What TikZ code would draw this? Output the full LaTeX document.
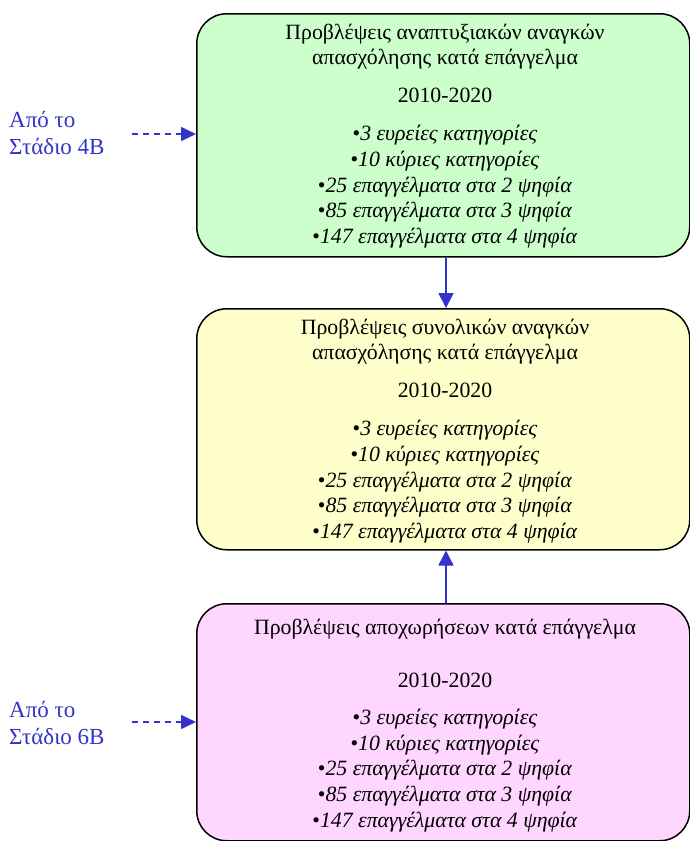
\documentclass[tikz,border=0pt]{standalone}
\usepackage{fontspec}
\setmainfont{Liberation Serif}
\usetikzlibrary{arrows.meta}
\definecolor{arrowblue}{RGB}{51,51,204}
\definecolor{boxgreen}{RGB}{204,255,204}
\definecolor{boxyellow}{RGB}{255,255,204}
\definecolor{boxpink}{RGB}{255,214,255}
\newcommand{\listitem}[1]{•\textit{#1}}
\begin{document}
\begin{tikzpicture}[x=1pt,y=-1pt,
  box/.style={draw=black, line width=1.5pt, rounded corners=30pt, minimum width=493pt, anchor=north west, inner sep=0pt},
  boxtext/.style={align=center, inner sep=0pt, anchor=north, font=\fontsize{21.8}{25.6}\selectfont},
  sidelabel/.style={align=left, inner sep=0pt, anchor=north west, text=arrowblue, font=\fontsize{23}{27}\selectfont},
  dasharrow/.style={draw=arrowblue, line width=1.5pt, dash pattern=on 6pt off 5pt, -{Triangle[length=15pt,width=14pt,fill=arrowblue]}},
  solidarrow/.style={draw=arrowblue, line width=1.5pt, -{Triangle[length=15pt,width=15pt,fill=arrowblue]}}
]
\useasboundingbox (0,0) rectangle (690,841);

\node[box, fill=boxgreen, minimum height=243pt] (g) at (196,13) {};
\node[box, fill=boxyellow, minimum height=241pt] (y) at (196,308) {};
\node[box, fill=boxpink, minimum height=237pt] (p) at (196,603) {};

\node[boxtext] (gt) at (445,23.5) {Προβλέψεις αναπτυξιακών αναγκών\\ απασχόλησης κατά επάγγελμα\\[12pt] 2010-2020\\[13pt]
\listitem{3 ευρείες κατηγορίες}\\ \listitem{10 κύριες κατηγορίες}\\ \listitem{25 επαγγέλματα στα 2 ψηφία}\\ \listitem{85 επαγγέλματα στα 3 ψηφία}\\ \listitem{147 επαγγέλματα στα 4 ψηφία}};

\node[boxtext] (yt) at (445,318.5) {Προβλέψεις συνολικών αναγκών\\ απασχόλησης κατά επάγγελμα\\[12pt] 2010-2020\\[13pt]
\listitem{3 ευρείες κατηγορίες}\\ \listitem{10 κύριες κατηγορίες}\\ \listitem{25 επαγγέλματα στα 2 ψηφία}\\ \listitem{85 επαγγέλματα στα 3 ψηφία}\\ \listitem{147 επαγγέλματα στα 4 ψηφία}};

\node[boxtext] (pt) at (445,619) {Προβλέψεις αποχωρήσεων κατά επάγγελμα\\[27pt] 2010-2020\\[12pt]
\listitem{3 ευρείες κατηγορίες}\\ \listitem{10 κύριες κατηγορίες}\\ \listitem{25 επαγγέλματα στα 2 ψηφία}\\ \listitem{85 επαγγέλματα στα 3 ψηφία}\\ \listitem{147 επαγγέλματα στα 4 ψηφία}};

\node[sidelabel] (l1) at (9,111) {Από το\\Στάδιο 4B};
\node[sidelabel] (l2) at (9,701) {Από το\\Στάδιο 6B};

\coordinate (s1) at (132,134);
\coordinate (s2) at (132,722);
\coordinate (ax) at (446,0);
\draw[dasharrow] (s1) -- (s1 -| g.west);
\draw[dasharrow] (s2) -- (s2 -| p.west);
\draw[solidarrow] (ax |- g.south) -- (ax |- y.north);
\draw[solidarrow] (ax |- p.north) -- (ax |- y.south);
\end{tikzpicture}
\end{document}
